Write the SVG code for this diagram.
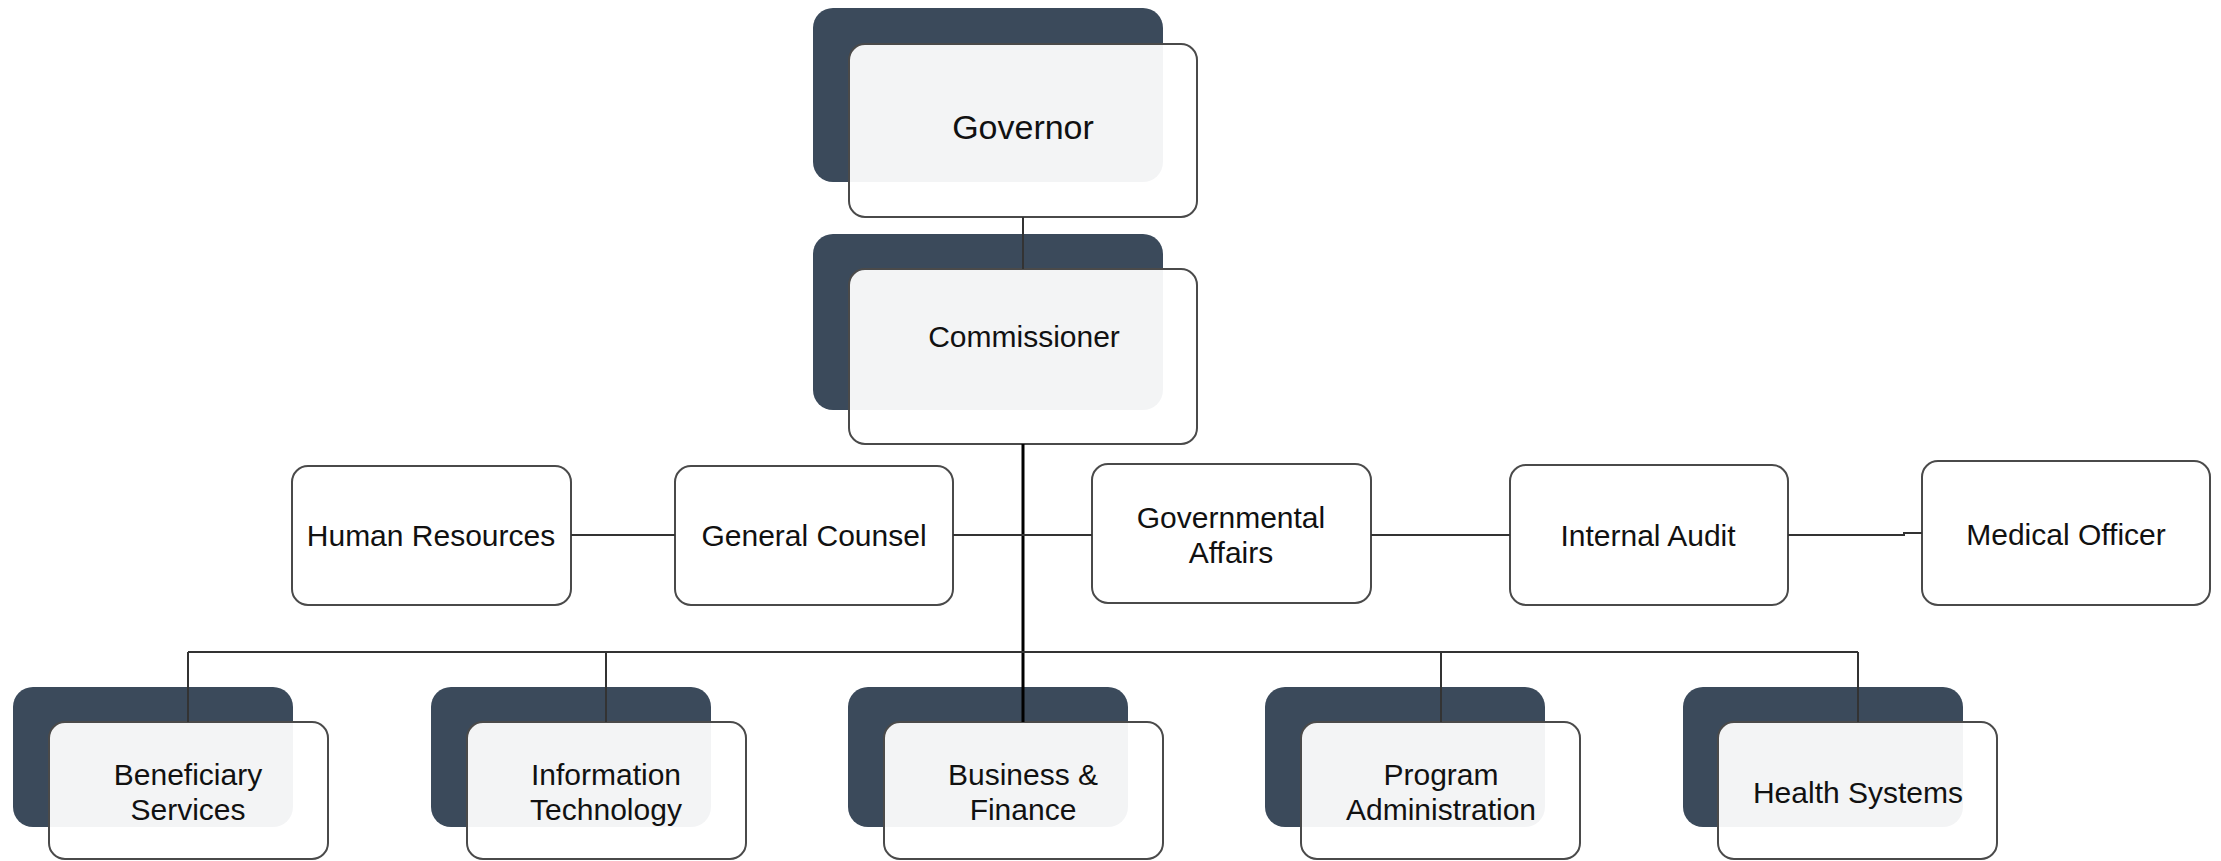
<svg xmlns="http://www.w3.org/2000/svg" width="2221" height="861" viewBox="0 0 2221 861">
<style>
.dk{fill:#3b4a5b}
.fr{fill:#fff;fill-opacity:0.94;stroke:#4a4a4a;stroke-width:2}
.bx{fill:#fff;stroke:#4a4a4a;stroke-width:2}
.t{font-family:"Liberation Sans",Arial,sans-serif;font-size:30px;fill:#111;text-anchor:middle}
.c{fill:none;stroke:#333;stroke-width:2}
.trunk{fill:none;stroke:#000;stroke-width:3}
</style>
<rect width="2221" height="861" fill="#fff"/>
<g id="governor">
<rect class="dk" x="813" y="8" width="350" height="174" rx="20"/>
<rect class="fr" x="849" y="44" width="348" height="173" rx="16"/>
<text class="t" x="1023" y="139" style="font-size:34px">Governor</text>
</g>
<g id="commissioner">
<rect class="dk" x="813" y="234" width="350" height="176" rx="20"/>
<rect class="fr" x="849" y="269" width="348" height="175" rx="16"/>
<text class="t" x="1024" y="347">Commissioner</text>
</g>
<g id="human-resources">
<rect class="bx" x="292" y="466" width="279" height="139" rx="16"/>
<text class="t" x="431" y="546">Human Resources</text>
</g>
<g id="general-counsel">
<rect class="bx" x="675" y="466" width="278" height="139" rx="16"/>
<text class="t" x="814" y="546">General Counsel</text>
</g>
<g id="governmental-affairs">
<rect class="bx" x="1092" y="464" width="279" height="139" rx="16"/>
<text class="t" x="1231" y="528">Governmental</text>
<text class="t" x="1231" y="563">Affairs</text>
</g>
<g id="internal-audit">
<rect class="bx" x="1510" y="465" width="278" height="140" rx="16"/>
<text class="t" x="1648" y="546">Internal Audit</text>
</g>
<g id="medical-officer">
<rect class="bx" x="1922" y="461" width="288" height="144" rx="16"/>
<text class="t" x="2066" y="545">Medical Officer</text>
</g>
<g id="beneficiary-services">
<rect class="dk" x="13" y="687" width="280" height="140" rx="20"/>
<rect class="fr" x="49" y="722" width="279" height="137" rx="16"/>
<text class="t" x="188" y="785">Beneficiary</text>
<text class="t" x="188" y="820">Services</text>
</g>
<g id="information-technology">
<rect class="dk" x="431" y="687" width="280" height="140" rx="20"/>
<rect class="fr" x="467" y="722" width="279" height="137" rx="16"/>
<text class="t" x="606" y="785">Information</text>
<text class="t" x="606" y="820">Technology</text>
</g>
<g id="business-finance">
<rect class="dk" x="848" y="687" width="280" height="140" rx="20"/>
<rect class="fr" x="884" y="722" width="279" height="137" rx="16"/>
<text class="t" x="1023" y="785">Business &amp;</text>
<text class="t" x="1023" y="820">Finance</text>
</g>
<g id="program-administration">
<rect class="dk" x="1265" y="687" width="280" height="140" rx="20"/>
<rect class="fr" x="1301" y="722" width="279" height="137" rx="16"/>
<text class="t" x="1441" y="785">Program</text>
<text class="t" x="1441" y="820">Administration</text>
</g>
<g id="health-systems">
<rect class="dk" x="1683" y="687" width="280" height="140" rx="20"/>
<rect class="fr" x="1718" y="722" width="279" height="137" rx="16"/>
<text class="t" x="1858" y="803">Health Systems</text>
</g>
<g id="connectors">
<path class="c" d="M1023 217V269"/>
<path class="trunk" d="M1023 444V722"/>
<path class="c" d="M571 535H675M953 535H1092M1371 535H1510M1788 535H1904V533H1922"/>
<path class="c" d="M188 652H1858M188 652V722M606 652V722M1441 652V722M1858 652V722"/>
</g>
</svg>
